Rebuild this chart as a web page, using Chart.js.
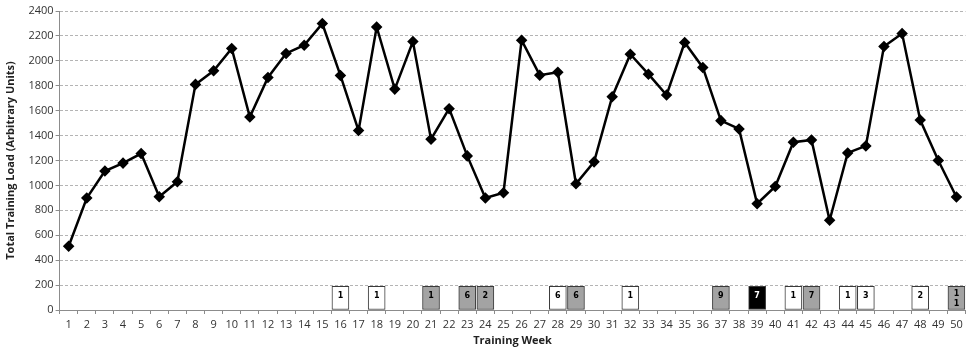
<!DOCTYPE html>
<html>
<head>
<meta charset="utf-8">
<script src="https://cdn.jsdelivr.net/npm/chart.js@4"></script>
<style>
  html, body { margin: 0; padding: 0; background: #fff; }
  #wrap { width: 972px; height: 351px; }
</style>
</head>
<body>
<div id="wrap"><canvas id="loadChart"></canvas></div>
<script>
// Training weeks (x tick labels)
const weeks = ["1","2","3","4","5","6","7","8","9","10","11","12","13","14","15","16","17","18","19","20",
  "21","22","23","24","25","26","27","28","29","30","31","32","33","34","35","36","37","38","39","40",
  "41","42","43","44","45","46","47","48","49","50"];

// Total training load per week
const trainingLoad = [512, 899, 1115, 1179, 1256, 909, 1029, 1811, 1920, 2099,
  1549, 1867, 2059, 2125, 2299, 1883, 1440, 2272, 1773, 2155,
  1371, 1616, 1237, 899, 941, 2165, 1885, 1909, 1013, 1189,
  1712, 2053, 1893, 1725, 2147, 1947, 1520, 1453, 853, 992,
  1347, 1365, 720, 1261, 1317, 2115, 2219, 1525, 1200, 907];

// Marker boxes along the bottom
const boxWeeks = [16, 18, 21, 23, 24, 28, 29, 32, 37, 39, 41, 42, 44, 45, 48, 50];
const boxCounts = [1, 1, 1, 6, 2, 6, 6, 1, 9, 7, 1, 7, 1, 3, 2, 11];
const boxTypes = ["white", "white", "gray", "gray", "gray", "white", "gray", "white",
  "gray", "black", "white", "gray", "white", "white", "white", "gray"];
const boxHeight = 190;

const yTicks = [0, 200, 400, 600, 800, 1000, 1200, 1400, 1600, 1800, 2000, 2200, 2400];

const fillFor = { white: "#ffffff", gray: "#a3a3a3", black: "#000000" };
const textFor = { white: "#000000", gray: "#000000", black: "#ffffff" };

// one slot per week, null where there is no box
const boxData = weeks.map((w, i) => boxWeeks.includes(i + 1) ? boxHeight : null);
const boxFill = weeks.map((w, i) => {
  const k = boxWeeks.indexOf(i + 1);
  return k < 0 ? "#fff" : fillFor[boxTypes[k]];
});

const boxLabels = {
  id: "boxLabels",
  afterDatasetsDraw(chart) {
    const meta = chart.getDatasetMeta(1);
    const ctx = chart.ctx;
    ctx.save();
    ctx.font = "bold 8px 'DejaVu Sans'";
    ctx.textAlign = "center";
    ctx.textBaseline = "middle";
    boxWeeks.forEach((w, i) => {
      const bar = meta.data[w - 1];
      const txt = String(boxCounts[i]);
      ctx.fillStyle = textFor[boxTypes[i]];
      if (txt.length > 1) {
        // narrow box: digits wrap onto separate lines
        txt.split("").forEach((d, k) => ctx.fillText(d, bar.x, bar.y + 8 + k * 10));
      } else {
        ctx.fillText(txt, bar.x, bar.y + 10);
      }
    });
    ctx.restore();
  }
};

const ctx = document.getElementById("loadChart").getContext("2d");
new Chart(ctx, {
  type: "bar",
  data: {
    labels: weeks,
    datasets: [
      {
        type: "line",
        data: trainingLoad,
        borderColor: "#000",
        backgroundColor: "#000",
        borderWidth: 2.5,
        pointStyle: "rectRot",
        pointRadius: 4,
        pointBackgroundColor: "#000",
        pointBorderColor: "#000",
        tension: 0,
        order: 0
      },
      {
        type: "bar",
        data: boxData,
        backgroundColor: boxFill,
        borderColor: "#3a3a3a",
        borderWidth: 1,
        borderSkipped: false,
        barThickness: 17,
        order: 1
      }
    ]
  },
  options: {
    responsive: true,
    maintainAspectRatio: false,
    animation: false,
    layout: { padding: { top: 11, right: 5, left: 0, bottom: 0 } },
    plugins: { legend: { display: false }, tooltip: { enabled: false } },
    scales: {
      x: {
        type: "category",
        offset: true,
        grid: { offset: true, drawOnChartArea: false, drawTicks: true, tickLength: 4, color: "#8c8c8c" },
        border: { color: "#8c8c8c" },
        ticks: { color: "#333", font: { family: "'Open Sans'", size: 11 }, maxRotation: 0, autoSkip: false, padding: 4 },
        title: { display: true, text: "Training Week", color: "#222", font: { family: "'Open Sans'", size: 11, weight: "bold" }, padding: { top: 0 } },
        afterFit: s => { s.height = 41; }
      },
      y: {
        min: 0,
        max: 2400,
        afterBuildTicks: s => { s.ticks = yTicks.map(v => ({ value: v })); },
        grid: { color: "#b4b4b4", tickLength: 4, tickColor: "#8c8c8c" },
        border: { color: "#8c8c8c", dash: [3, 2] },
        ticks: { color: "#333", font: { family: "'Open Sans'", size: 11 }, padding: 2, callback: v => String(v) },
        title: { display: true, text: "Total Training Load (Arbitrary Units)", color: "#222", font: { family: "'Open Sans'", size: 11, weight: "bold" }, padding: { bottom: 2 } },
        afterFit: s => { s.width = 59.6; }
      }
    }
  },
  plugins: [boxLabels]
});
</script>
</body>
</html>
